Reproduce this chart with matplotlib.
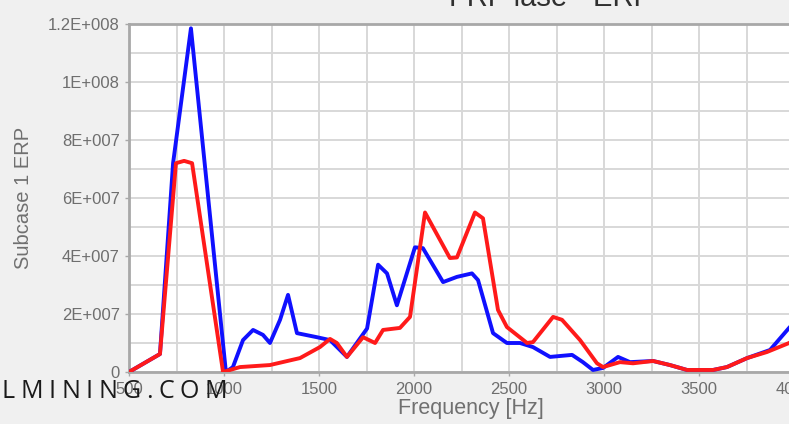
import matplotlib
matplotlib.use("Agg")
import matplotlib.pyplot as plt
from matplotlib.ticker import FixedLocator, MultipleLocator, FixedFormatter

# values (ERP in units of 1E+007)
freq_blue = [500, 663, 732, 826, 1010, 1047, 1100, 1153, 1205, 1242, 1295, 1337, 1384,
             1489, 1558, 1647, 1753, 1811, 1858, 1910, 2005, 2047, 2153, 2226, 2305,
             2337, 2416, 2489, 2558, 2626, 2716, 2832, 2889, 2942, 2995, 3074, 3137,
             3258, 3347, 3437, 3574, 3647, 3753, 3874, 3974, 4000]
erp_blue = [0, 0.62, 7.2, 11.85, 0, 0.17, 1.1, 1.45, 1.28, 1.0, 1.8, 2.66, 1.34,
            1.2, 1.1, 0.52, 1.5, 3.7, 3.4, 2.3, 4.3, 4.27, 3.1, 3.28, 3.4,
            3.17, 1.34, 1.0, 1.0, 0.86, 0.52, 0.59, 0.34, 0.07, 0.14, 0.52, 0.34,
            0.38, 0.24, 0.07, 0.07, 0.17, 0.48, 0.76, 1.52, 1.7]

freq_red = [500, 663, 747, 790, 832, 995, 1084, 1242, 1347, 1400, 1505, 1558, 1594,
            1647, 1732, 1795, 1837, 1926, 1979, 2058, 2189, 2226, 2321, 2363, 2442,
            2489, 2595, 2626, 2732, 2779, 2874, 2963, 2995, 3084, 3153, 3258, 3347,
            3437, 3574, 3647, 3753, 3858, 3974, 4000]
erp_red = [0, 0.62, 7.2, 7.28, 7.2, 0, 0.17, 0.24, 0.4, 0.48, 0.86, 1.14, 1.0,
           0.52, 1.2, 1.0, 1.45, 1.52, 1.9, 5.5, 3.93, 3.95, 5.5, 5.3, 2.14,
           1.55, 1.0, 1.03, 1.9, 1.8, 1.1, 0.3, 0.17, 0.34, 0.3, 0.38, 0.24,
           0.07, 0.07, 0.17, 0.48, 0.69, 1.0, 1.1]

x_ticks = [500, 1000, 1500, 2000, 2500, 3000, 3500, 4000]
x_tick_labels = ["500", "1000", "1500", "2000", "2500", "3000", "3500", "4000"]
y_ticks = [0, 2, 4, 6, 8, 10, 12]
y_tick_labels = ["0", "2E+007", "4E+007", "6E+007", "8E+007", "1E+008", "1.2E+008"]

title = "FRF lase - ERP"
watermark = "LMINING.COM"

plt.rcParams["font.family"] = ["Liberation Sans", "DejaVu Sans"]

fig = plt.figure(figsize=(7.89, 4.24), dpi=100, facecolor="#f0f0f0")
# axes runs past the right edge, the reference is cropped there
ax = fig.add_axes([129 / 789, 52 / 424, 684 / 789, 348 / 424])
ax.set_facecolor("white")

ax.plot(freq_blue, erp_blue, color="#1010ff", lw=2.8, zorder=3, solid_joinstyle="round")
ax.plot(freq_red, erp_red, color="#ff1a1a", lw=2.8, zorder=4, solid_joinstyle="round")

ax.set_xlim(500, 4100)
ax.set_ylim(0, 12)
ax.xaxis.set_major_locator(FixedLocator(x_ticks))
ax.xaxis.set_major_formatter(FixedFormatter(x_tick_labels))
ax.xaxis.set_minor_locator(MultipleLocator(250))
ax.yaxis.set_major_locator(FixedLocator(y_ticks))
ax.yaxis.set_major_formatter(FixedFormatter(y_tick_labels))
ax.yaxis.set_minor_locator(MultipleLocator(1))

ax.grid(which="both", color="#d8d8d8", lw=1.4, zorder=0)
ax.set_axisbelow(True)

for side in ["left", "bottom", "top"]:
    ax.spines[side].set_color("#a8a8a8")
    ax.spines[side].set_linewidth(2)
ax.spines["right"].set_visible(False)

ax.tick_params(axis="both", which="major", labelsize=12, labelcolor="#6e6e6e",
               color="#a8a8a8", length=3, width=1)
ax.tick_params(axis="both", which="minor", length=0)
ax.tick_params(axis="x", pad=4)

ax.set_xlabel("Frequency [Hz]", fontsize=15.5, color="#707070", labelpad=1)
ax.set_ylabel("Subcase 1 ERP", fontsize=14.5, color="#707070", labelpad=11)

fig.text(551 / 789, 1 - 6 / 424, title, ha="center", va="baseline",
         fontsize=21, color="#303030")

# watermark, spread out letter by letter
fig.canvas.draw()
r = fig.canvas.get_renderer()
pieces = [fig.text(0, 26 / 424, ch, fontsize=18, family="Open Sans", color="#1a1a1a",
                   va="baseline", ha="left", zorder=10) for ch in watermark]
widths = [p.get_window_extent(r).width for p in pieces]
gap = (225 - sum(widths)) / (len(pieces) - 1)
x = 2
for p, w in zip(pieces, widths):
    p.set_x(x / 789)
    x += w + gap

fig.savefig("out.png", dpi=100, facecolor=fig.get_facecolor())
